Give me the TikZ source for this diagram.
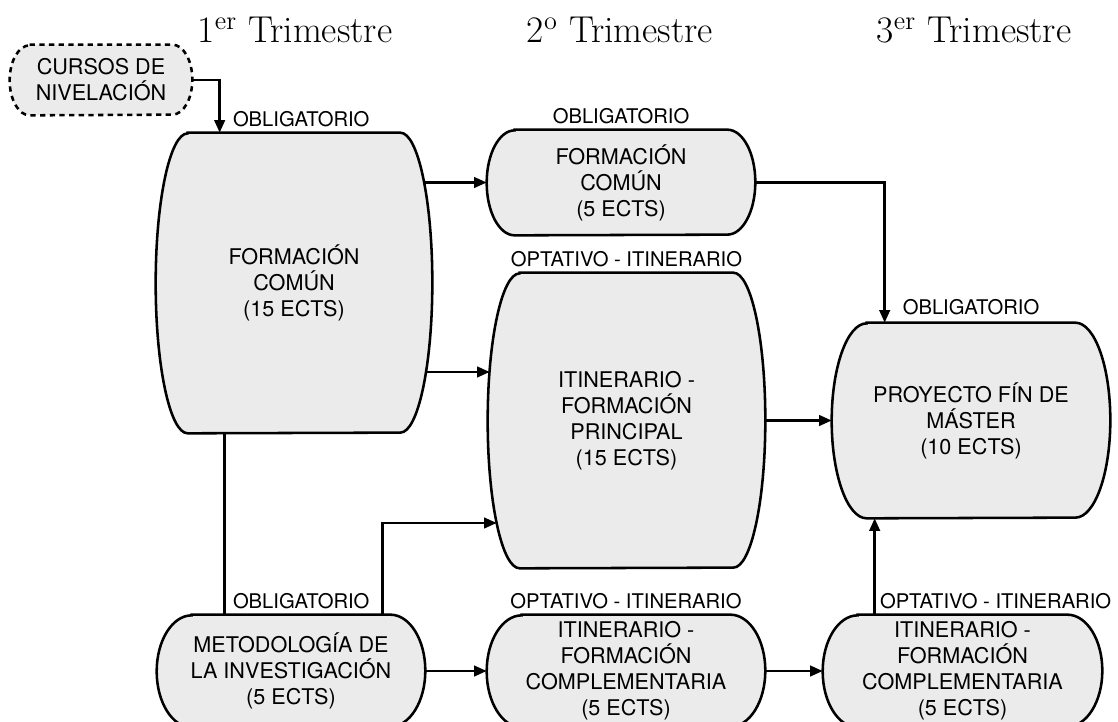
\documentclass[tikz,border=0pt]{standalone}
\usepackage{fontspec}
\newfontfamily\helv{TeX Gyre Heros}
\usetikzlibrary{arrows.meta,positioning,backgrounds}

\definecolor{boxgray}{HTML}{EBEBEB}

\tikzset{
  box/.style={rectangle, inner sep=0pt, align=center,
    font=\helv\fontsize{12.3}{14.8}\selectfont},
  tag/.style={inner sep=0pt, font=\helv\fontsize{11.5}{13}\selectfont},
  term/.style={inner sep=0pt, font=\fontsize{21.3}{26}\selectfont},
  boxline/.style={line width=1.45pt, fill=boxgray},
  link/.style={line width=1.35pt},
  conn/.style={link, -{Triangle[length=0.25cm, width=0.21cm]}},
}

% rectangle with half-ellipse ends drawn round a node
\newcommand{\capsule}[4][]{%
  \filldraw[boxline,#1] ([xshift=#3]#2.north west) -- ([xshift=-#3]#2.north east)
    arc[start angle=90, end angle=-90, x radius=#3, y radius=#4]
    -- ([xshift=#3]#2.south west)
    arc[start angle=270, end angle=90, x radius=#3, y radius=#4] -- cycle;}

\begin{document}
\begin{tikzpicture}[x=0.02cm, y=-0.02cm]

\useasboundingbox (0,0) rectangle (1118,722);

% TERMS
\node[term, anchor=base] (t1) at (295,43) {1\textsuperscript{er} Trimestre};
\node[term, anchor=base] (t2) at (620,43) {2\textsuperscript{o} Trimestre};
\node[term, anchor=base] (t3) at (974,43) {3\textsuperscript{er} Trimestre};

% BLOCKS
\node[box, minimum width=3.64cm, minimum height=1.4cm] (curs) at (101,80) {CURSOS DE\\NIVELACIÓN};
\node[box, minimum width=5.52cm, minimum height=6cm] (fc15) at (294,283) {FORMACIÓN\\COMÚN\\(15 ECTS)};
\node[box, minimum width=5.36cm, minimum height=2.1cm] (fc5) at (621,182.5) {FORMACIÓN\\COMÚN\\(5 ECTS)};
\node[box, minimum width=5.54cm, minimum height=5.9cm] (itp) at (626.5,420.5) {ITINERARIO -\\FORMACIÓN\\PRINCIPAL\\(15 ECTS)};
\node[box, minimum width=5.56cm, minimum height=3.9cm] (pfm) at (971,420.5) {PROYECTO FÍN DE\\MÁSTER\\(10 ECTS)};
\node[box, minimum width=5.36cm, minimum height=2.24cm] (met) at (291,671) {METODOLOGÍA DE\\LA INVESTIGACIÓN\\(5 ECTS)};
\node[box, minimum width=5.56cm, minimum height=2.24cm] (ifc1) at (626,671) {ITINERARIO -\\FORMACIÓN\\COMPLEMENTARIA\\(5 ECTS)};
\node[box, minimum width=5.58cm, minimum height=2.24cm] (ifc2) at (962.5,671) {ITINERARIO -\\FORMACIÓN\\COMPLEMENTARIA\\(5 ECTS)};

% TAGS
\node[tag, above right=0.1cm and 1.54cm of fc15.north west] (fc15-tag) {OBLIGATORIO};
\node[tag, above=0.1cm of fc5.north] (fc5-tag) {OBLIGATORIO};
\node[tag, above=0.1cm of itp.north] (itp-tag) {OPTATIVO - ITINERARIO};
\node[tag, above=0.14cm of pfm.north] (pfm-tag) {OBLIGATORIO};
\node[tag, above right=0.1cm and 1.52cm of met.north west] (met-tag) {OBLIGATORIO};
\node[tag, above=0.1cm of ifc1.north] (ifc1-tag) {OPTATIVO - ITINERARIO};
\node[tag, above right=0.1cm and 1.14cm of ifc2.north west] (ifc2-tag) {OPTATIVO - ITINERARIO};

% OUTLINES
\begin{scope}[on background layer]
\capsule[dash pattern=on 3pt off 2.5pt]{curs}{0.4cm}{0.7cm}
\capsule{fc15}{0.64cm}{3cm}
\capsule{fc5}{0.56cm}{1.05cm}
\capsule{itp}{0.64cm}{2.95cm}
\capsule{pfm}{0.7cm}{1.95cm}
\capsule{met}{0.7cm}{1.12cm}
\capsule{ifc1}{0.7cm}{1.12cm}
\capsule{ifc2}{0.7cm}{1.12cm}
\end{scope}

% LINKS
\draw[conn] (curs.east) -| ([xshift=1.28cm]fc15.north west);
\draw[conn] ([xshift=-0.16cm]fc15.east |- fc5.west) -- (fc5.west);
\draw[conn] ([shift={(-0.12cm,-1.78cm)}]fc15.east) coordinate (fc15-out)
  -- ([xshift=0.04cm]itp.west |- fc15-out);
\draw[link] ([xshift=1.38cm]fc15.south west) -- ([xshift=1.38cm]fc15.south west |- met.north);
\draw[conn] ([xshift=4.52cm]met.north west) |- ([shift={(0.18cm,-2.05cm)}]itp.west);
\draw[conn] (fc5.east) -| ([xshift=1.06cm]pfm.north west);
\draw[conn] (itp.east) -- (pfm.west);
\draw[conn] (met.east) -- (ifc1.west);
\draw[conn] (ifc1.east) -- (ifc2.west);
\draw[conn] ([xshift=1.04cm]ifc2.north west) -- ([xshift=1.04cm]ifc2.north west |- pfm.south);

\end{tikzpicture}
\end{document}
